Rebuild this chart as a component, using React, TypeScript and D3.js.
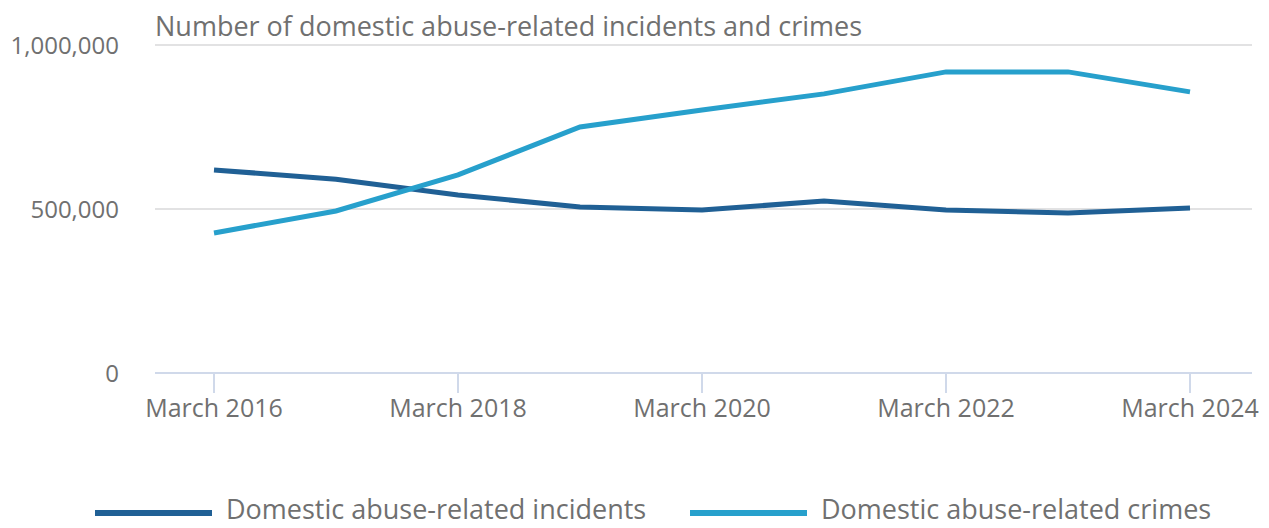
import React from "react";
import * as d3 from "d3";

const years = [2016, 2017, 2018, 2019, 2020, 2021, 2022, 2023, 2024];
const incidents = [619000, 591000, 543000, 506000, 497000, 524000, 497000, 488000, 503000];
const crimes = [427000, 494000, 604000, 750000, 802000, 851000, 918000, 918000, 857000];
const yTicks = [0, 500000, 1000000];
const xTickYears = [2016, 2018, 2020, 2022, 2024];
const seriesNames = ["Domestic abuse-related incidents", "Domestic abuse-related crimes"];
const seriesColors = ["#206095", "#27a0cc"];
const title = "Number of domestic abuse-related incidents and crimes";

export default function App() {
  const W = 1269, H = 528;
  const left = 155, right = 1252, top = 45, bottom = 373;
  const x = d3.scaleLinear().domain([2016, 2024]).range([214, 1190]);
  const y = d3.scaleLinear().domain([0, 1000000]).range([bottom, top]);
  const line = d3.line<number>().x((_, i) => x(years[i])).y((d) => y(d));
  const fmt = d3.format(",");
  const font = "'Open Sans', sans-serif";
  const series = [incidents, crimes];
  const legendX = [95, 690];
  return (
    <svg width={W} height={H} style={{ position: "absolute", left: 0, top: 0 }} fontFamily={font}>
      <text x={left} y={36} fontSize={27} fill="#707070">{title}</text>
      {yTicks.slice(1).map((t) => (
        <line key={t} x1={left} x2={right} y1={y(t)} y2={y(t)} stroke="#e2e2e3" strokeWidth={2} />
      ))}
      <line x1={left} x2={right} y1={bottom} y2={bottom} stroke="#d0d9ea" strokeWidth={2} />
      {xTickYears.map((yr) => (
        <g key={yr}>
          <line x1={x(yr)} x2={x(yr)} y1={bottom} y2={bottom + 20} stroke="#d0d9ea" strokeWidth={2} />
          <text x={x(yr)} y={417} fontSize={25} fill="#707070" textAnchor="middle">March {yr}</text>
        </g>
      ))}
      {yTicks.map((t) => (
        <text key={t} x={119} y={y(t) + 9} fontSize={24} fill="#707070" textAnchor="end">{fmt(t)}</text>
      ))}
      {series.map((s, i) => (
        <path key={i} d={line(s) || ""} fill="none" stroke={seriesColors[i]} strokeWidth={5} />
      ))}
      {seriesNames.map((n, i) => (
        <g key={n}>
          <line x1={legendX[i]} x2={legendX[i] + 117} y1={513} y2={513} stroke={seriesColors[i]} strokeWidth={6} />
          <text x={legendX[i] + 131} y={519} fontSize={27} fill="#707070">{n}</text>
        </g>
      ))}
    </svg>
  );
}
